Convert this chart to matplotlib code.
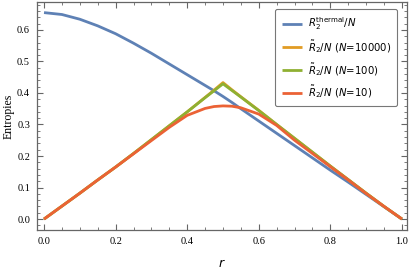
import matplotlib
matplotlib.use("Agg")
import matplotlib.pyplot as plt
from matplotlib.ticker import MultipleLocator, FormatStrFormatter

r = [0.0, 0.05, 0.1, 0.15, 0.2, 0.25, 0.3, 0.35, 0.4, 0.45, 0.475, 0.5,
     0.525, 0.55, 0.6, 0.65, 0.7, 0.75, 0.8, 0.85, 0.9, 0.95, 1.0]
thermal = [0.655, 0.649, 0.634, 0.613, 0.588, 0.558, 0.526, 0.492, 0.458, 0.424, 0.407, 0.389,
           0.370, 0.350, 0.311, 0.272, 0.233, 0.194, 0.155, 0.117, 0.078, 0.039, 0.0]
n10000 = [0.0, 0.041, 0.082, 0.124, 0.165, 0.208, 0.252, 0.296, 0.340, 0.386, 0.409, 0.433,
          0.410, 0.388, 0.345, 0.300, 0.256, 0.212, 0.168, 0.125, 0.082, 0.040, 0.0]
n100 = [0.0, 0.041, 0.082, 0.124, 0.165, 0.208, 0.252, 0.296, 0.340, 0.385, 0.407, 0.429,
        0.408, 0.387, 0.344, 0.300, 0.256, 0.212, 0.168, 0.125, 0.082, 0.040, 0.0]
n10 = [0.0, 0.041, 0.082, 0.124, 0.165, 0.207, 0.249, 0.291, 0.329, 0.351, 0.357, 0.359,
       0.358, 0.353, 0.333, 0.297, 0.250, 0.208, 0.166, 0.124, 0.081, 0.040, 0.0]

labels = [r"$R_2^{\mathrm{thermal}}/N$",
          r"$\tilde{R}_2/N$ ($N$=10000)",
          r"$\tilde{R}_2/N$ ($N$=100)",
          r"$\tilde{R}_2/N$ ($N$=10)"]
colors = ["#5E81B5", "#E19C24", "#8FB032", "#EB6235"]

plt.rcParams['mathtext.fontset'] = 'dejavusans'
fig = plt.figure(figsize=(4.09, 2.71), dpi=100)
ax = fig.add_axes([0.0905, 0.151, 0.9045, 0.842])

for ys, c, lab in zip([thermal, n10000, n100, n10], colors, labels):
    ax.plot(r, ys, color=c, lw=2.0, label=lab, solid_capstyle='butt')

ax.set_xlim(-0.0196, 1.014)
ax.set_ylim(-0.035, 0.689)
ax.xaxis.set_major_locator(MultipleLocator(0.2))
ax.xaxis.set_minor_locator(MultipleLocator(0.05))
ax.yaxis.set_major_locator(MultipleLocator(0.1))
ax.yaxis.set_minor_locator(MultipleLocator(0.02))
ax.xaxis.set_major_formatter(FormatStrFormatter('%.1f'))
ax.yaxis.set_major_formatter(FormatStrFormatter('%.1f'))
ax.tick_params(which='both', direction='in', top=True, right=True, color='#666666')
ax.tick_params(which='major', length=4, width=0.8, labelsize=7.5, pad=5)
ax.tick_params(which='minor', length=2, width=0.6)
for lab in ax.get_xticklabels() + ax.get_yticklabels():
    lab.set_fontfamily('Liberation Serif')
for s in ax.spines.values():
    s.set_color('#666666')
    s.set_linewidth(0.9)

ax.set_ylabel('Entropies', fontfamily='Liberation Serif', fontsize=8.5, labelpad=2)
ax.set_xlabel('$r$', fontsize=9, labelpad=8)

leg = ax.legend(loc='upper right', fontsize=7.3, frameon=True, fancybox=True,
                handlelength=2.0, handletextpad=0.6, borderpad=0.6, labelspacing=0.6,
                bbox_to_anchor=(0.988, 0.99))
leg.get_frame().set_edgecolor('#555555')
leg.get_frame().set_linewidth(0.8)

fig.savefig('out.png', dpi=100)
